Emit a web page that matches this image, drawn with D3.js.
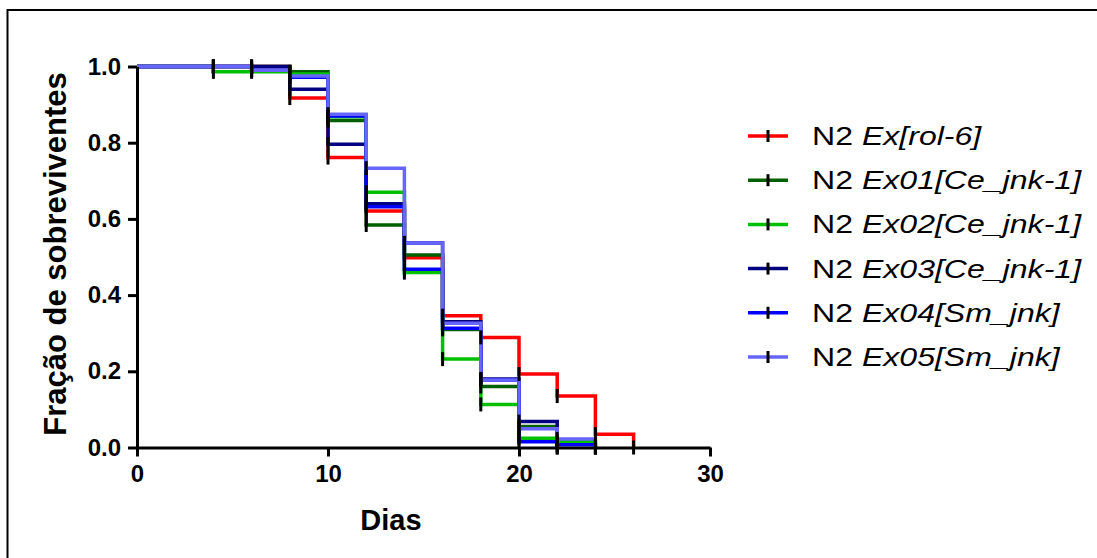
<!DOCTYPE html>
<html>
<head>
<meta charset="utf-8">
<script src="https://cdn.jsdelivr.net/npm/d3@7"></script>
<style>
  body { margin: 0; background: #fff; }
  svg { display: block; font-family: "Liberation Sans", Arial, sans-serif; }
</style>
</head>
<body>
<div id="chart"></div>
<script>
// survival data (Kaplan-Meier steps)
const days = [0, 4, 6, 8, 10, 12, 14, 16, 18, 20, 22, 24, 26];

const rol6  = [1, 1, 1, 0.917, 0.761, 0.621, 0.498, 0.346, 0.289, 0.193, 0.135, 0.035, 0];
const ce01  = [1, 1, 1, 0.986, 0.858, 0.584, 0.505, 0.31, 0.16, 0.055, 0];
const ce02  = [1, 0.986, 0.986, 0.98, 0.868, 0.67, 0.459, 0.232, 0.113, 0.024, 0.015, 0];
const ce03  = [1, 1, 1, 0.94, 0.796, 0.64, 0.537, 0.33, 0.18, 0.068, 0];
const sm04  = [1, 1, 0.99, 0.972, 0.87, 0.632, 0.468, 0.313, 0.177, 0.015, 0.007, 0];
const sm05  = [1, 1, 0.99, 0.975, 0.875, 0.733, 0.537, 0.326, 0.177, 0.049, 0.022, 0];

const seriesNames = ["Ex[rol-6]", "Ex01[Ce_jnk-1]", "Ex02[Ce_jnk-1]", "Ex03[Ce_jnk-1]", "Ex04[Sm_jnk]", "Ex05[Sm_jnk]"];
const seriesValues = [rol6, ce01, ce02, ce03, sm04, sm05];
const colors = ["#ff0000", "#006000", "#00c000", "#000080", "#0000ff", "#6666ff"];

const xTicks = [0, 10, 20, 30];
const yTicks = [0, 0.2, 0.4, 0.6, 0.8, 1.0];

const width = 1097, height = 558;

const svg = d3.select("#chart").append("svg")
    .attr("width", width)
    .attr("height", height);

// frame around the figure
svg.append("rect")
    .attr("x", 7.5).attr("y", 10)
    .attr("width", 1200).attr("height", 1000)
    .attr("fill", "none")
    .attr("stroke", "#000")
    .attr("stroke-width", 2);

const x = d3.scaleLinear().domain([0, 30]).range([137, 710]);
const y = d3.scaleLinear().domain([0, 1]).range([447.5, 66.5]);

const line = d3.line()
    .x(d => x(d[0]))
    .y(d => y(d[1]))
    .curve(d3.curveStepAfter);

const data = seriesValues.map((vals, i) => ({
    name: seriesNames[i],
    color: colors[i],
    points: vals.map((v, j) => [days[j], v])
}));

// step curves
svg.append("g")
    .selectAll("path")
    .data(data)
    .enter()
    .append("path")
    .attr("d", d => line(d.points))
    .attr("fill", "none")
    .attr("stroke", d => d.color)
    .attr("stroke-width", 3.5);

// axes
const xAxis = svg.append("g")
    .attr("transform", "translate(0," + y(0) + ")")
    .call(d3.axisBottom(x).tickValues(xTicks).tickSize(9).tickSizeOuter(0).tickPadding(8).tickFormat(d3.format("d")));

const yAxis = svg.append("g")
    .attr("transform", "translate(" + x(0) + ",0)")
    .call(d3.axisLeft(y).tickValues(yTicks).tickSize(9).tickSizeOuter(0).tickPadding(7).tickFormat(d3.format(".1f")));

[xAxis, yAxis].forEach(a => {
    a.select(".domain").attr("stroke", "#000").attr("stroke-width", 3);
    a.selectAll(".tick line").attr("stroke", "#000").attr("stroke-width", 3);
    a.selectAll(".tick text")
        .attr("fill", "#000")
        .style("font-family", "'Liberation Sans', Arial, sans-serif")
        .style("font-size", "24px")
        .style("font-weight", "bold");
});

// censor marks on top
const marks = [];
data.forEach(d => d.points.forEach((p, j) => { if (j > 0) marks.push(p); }));
svg.append("g")
    .selectAll("line")
    .data(marks)
    .enter()
    .append("line")
    .attr("x1", d => x(d[0])).attr("x2", d => x(d[0]))
    .attr("y1", d => y(d[1]) - 7).attr("y2", d => y(d[1]) + 7)
    .attr("stroke", "#000")
    .attr("stroke-width", 3);

// axis titles
svg.append("text")
    .attr("x", 391).attr("y", 530)
    .attr("text-anchor", "middle")
    .attr("font-size", 29)
    .attr("font-weight", "bold")
    .text("Dias");

svg.append("text")
    .attr("transform", "translate(66,254) rotate(-90)")
    .attr("text-anchor", "middle")
    .attr("font-size", 31)
    .attr("font-weight", "bold")
    .text("Fração de sobreviventes");

// legend
const legend = svg.selectAll(".legend")
    .data(data)
    .enter()
    .append("g")
    .attr("class", "legend")
    .attr("transform", (d, i) => "translate(748," + (136 + i * 44.2) + ")");

legend.append("line")
    .attr("x1", 0).attr("x2", 40)
    .attr("stroke", d => d.color)
    .attr("stroke-width", 3.5);

legend.append("line")
    .attr("x1", 20).attr("x2", 20)
    .attr("y1", -6).attr("y2", 6)
    .attr("stroke", "#000")
    .attr("stroke-width", 3);

const lt = legend.append("text")
    .attr("transform", "translate(64,9) scale(1.21,1)")
    .attr("font-size", 26.5);
lt.append("tspan").text("N2 ");
lt.append("tspan").attr("font-style", "italic").text(d => d.name);
</script>
</body>
</html>
